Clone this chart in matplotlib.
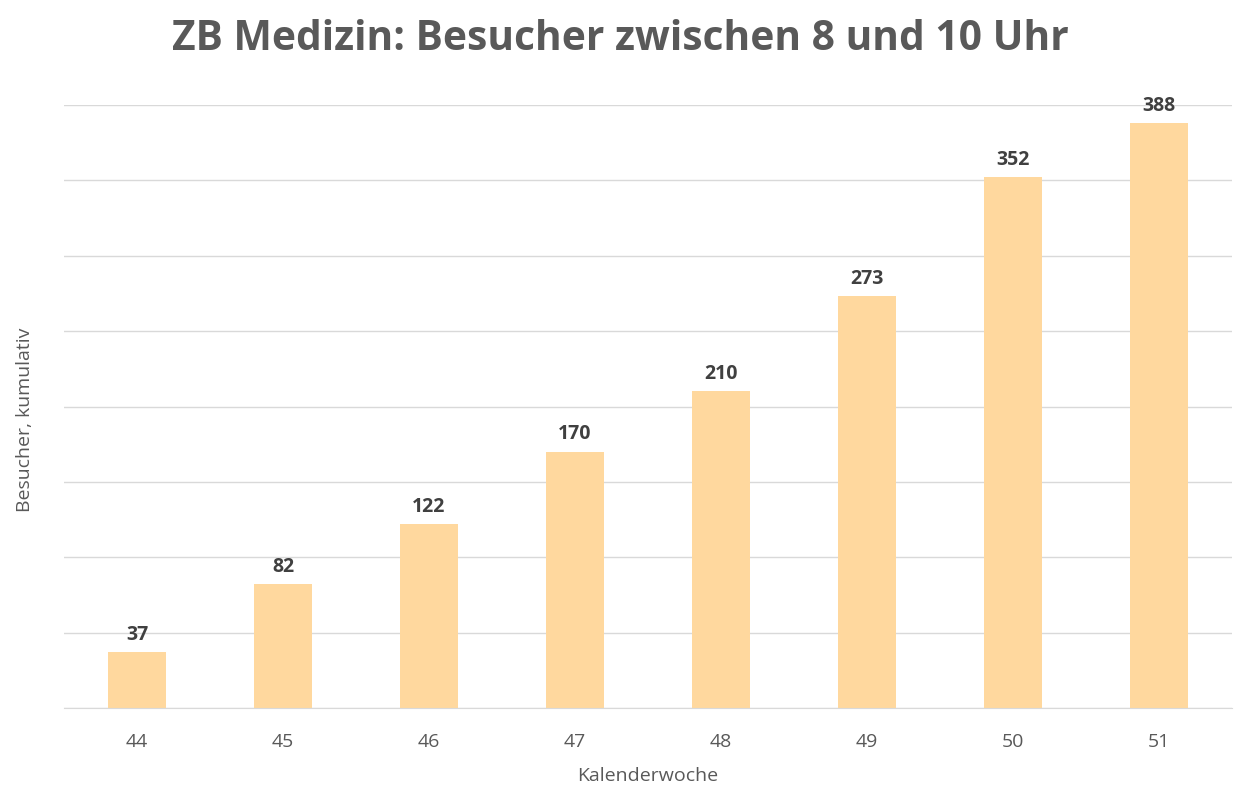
import matplotlib
matplotlib.use('Agg')
import matplotlib.pyplot as plt
import matplotlib.ticker as mticker

plt.rcParams['font.family'] = ['Open Sans', 'DejaVu Sans']

weeks    = ["44", "45", "46", "47", "48", "49", "50", "51"]
visitors = [37, 82, 122, 170, 210, 273, 352, 388]

BAR   = "#FFD89E"
GRID  = "#D9D9D9"
TEXT  = "#595959"
LABEL = "#404040"

fig = plt.figure(figsize=(12.45, 8.03), dpi=100)
ax = fig.add_axes([64 / 1245, 1 - 709 / 803, 1168 / 1245, 603 / 803])

x = range(len(weeks))
bars = ax.bar(x, visitors, width=0.404, color=BAR, zorder=2)
for b, v in zip(bars, visitors):
    ax.annotate(str(v), (b.get_x() + b.get_width() / 2, v), xytext=(0, 6),
                textcoords='offset points', ha='center', va='bottom',
                fontsize=14, fontweight='bold', color=LABEL)

ax.set_xlim(-0.5, len(weeks) - 0.5)
ax.set_ylim(0, 400)
ax.yaxis.set_major_locator(mticker.MultipleLocator(50))
ax.set_yticklabels([])
ax.tick_params(axis='y', length=0)
ax.tick_params(axis='x', length=0, pad=17, labelsize=14, colors=TEXT)
ax.set_xticks(list(x))
ax.set_xticklabels(weeks)
ax.grid(axis='y', color=GRID, linewidth=1, zorder=0)
for s in ['top', 'right', 'left']:
    ax.spines[s].set_visible(False)
ax.spines['bottom'].set_color(GRID)

ax.set_xlabel("Kalenderwoche", fontsize=14, color=TEXT, labelpad=12)
ax.set_ylabel("Besucher, kumulativ", fontsize=14, color=TEXT)
ax.yaxis.set_label_coords(-0.026, 0.48)
fig.text(620 / 1245, 1 - 40 / 803, "ZB Medizin: Besucher zwischen 8 und 10 Uhr",
         ha='center', va='center', fontsize=29.3, fontweight='bold', color=TEXT)

fig.savefig("out.png", dpi=100, facecolor='white')
